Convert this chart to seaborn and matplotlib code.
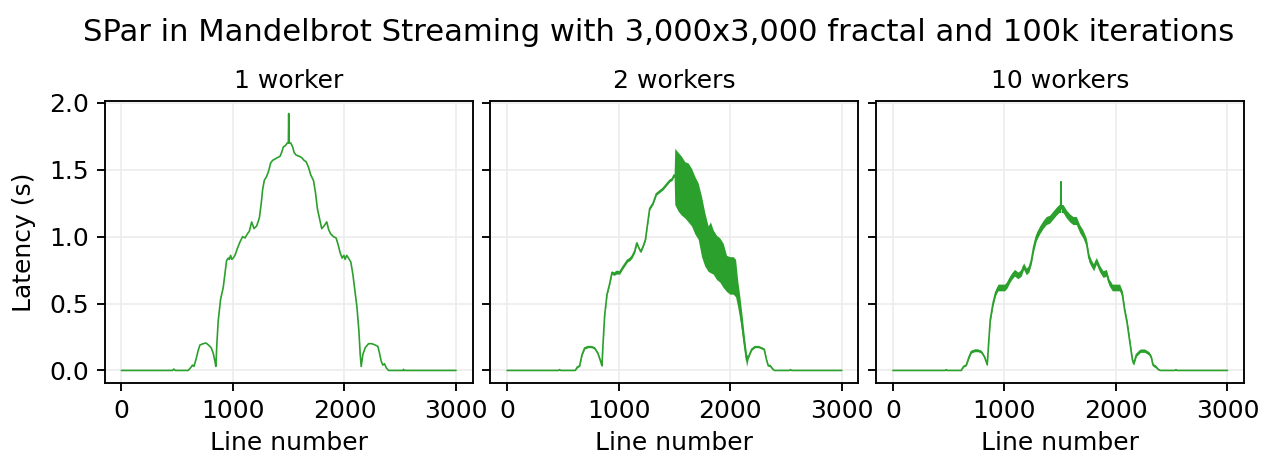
import numpy as np
import pandas as pd
import matplotlib
matplotlib.use("Agg")
import matplotlib.pyplot as plt
import seaborn as sns

GREEN = "#2ca02c"

# ---- 1 worker: latency per line ----
lines_1w = [0, 458, 470, 482, 599, 620, 638, 650, 668, 689, 704, 734, 758, 781, 805, 823, 838, 847,
            856, 868, 889, 913, 928, 943, 958, 968, 979, 990, 1003, 1018, 1039, 1063, 1087, 1108, 1129, 1147,
            1168, 1189, 1213, 1237, 1254, 1266, 1281, 1302, 1320, 1338, 1356, 1377, 1398, 1422, 1437,
            1452, 1470, 1488, 1497, 1500, 1503, 1518, 1536, 1548, 1566, 1596, 1617, 1638, 1656, 1677,
            1698, 1722, 1740, 1757, 1775, 1796, 1817, 1841, 1859, 1877, 1901, 1925, 1943, 1961, 1979,
            1995, 2006, 2020, 2036, 2057, 2075, 2093, 2111, 2129, 2141, 2150, 2165, 2186, 2216, 2246, 2275, 2299,
            2314, 2329, 2344, 2359, 2374, 2395, 2525, 2530, 2535, 3000]
lat_1w = [0, 0, 0.01, 0, 0, 0.02, 0.04, 0.03, 0.08, 0.15, 0.19, 0.20, 0.205, 0.19, 0.17, 0.13, 0.07, 0.03,
          0.20, 0.37, 0.53, 0.62, 0.72, 0.82, 0.84, 0.83, 0.86, 0.83, 0.84, 0.86, 0.91, 0.96, 1.00, 0.99, 1.02, 1.04,
          1.11, 1.06, 1.08, 1.14, 1.25, 1.35, 1.42, 1.45, 1.49, 1.55, 1.57, 1.58, 1.59, 1.60, 1.63,
          1.67, 1.68, 1.70, 1.70, 1.92, 1.70, 1.70, 1.67, 1.63, 1.61, 1.60, 1.59, 1.57, 1.56, 1.52,
          1.46, 1.42, 1.33, 1.21, 1.14, 1.06, 1.08, 1.11, 1.05, 1.02, 1.00, 0.99, 0.94, 0.88, 0.84,
          0.86, 0.83, 0.86, 0.84, 0.81, 0.72, 0.60, 0.48, 0.30, 0.12, 0.03, 0.12, 0.17, 0.20, 0.20, 0.19, 0.18,
          0.13, 0.07, 0.04, 0.05, 0.02, 0, 0, 0.008, 0, 0]

# ---- 2 workers: lower / upper latency per line ----
lines_2w = [0, 460, 470, 480, 611, 629, 650, 671, 695, 725, 755, 784, 814, 838, 850, 859, 874, 895,
            919, 940, 958, 979, 1009, 1030, 1054, 1078, 1099, 1120, 1144, 1162, 1180, 1198, 1219,
            1240, 1258, 1278, 1308, 1338, 1368, 1398, 1428, 1458, 1479, 1497, 1503, 1533, 1563,
            1593, 1623, 1653, 1683, 1713, 1743, 1772, 1802, 1823, 1847, 1877, 1907, 1937, 1967,
            1997, 2027, 2048, 2066, 2087, 2108, 2126, 2147, 2162, 2192, 2222, 2252, 2282, 2305,
            2326, 2341, 2356, 2377, 2395, 2530, 2540, 2550, 3000]
low_2w = [0, 0, 0.004, 0, 0, 0.02, 0.03, 0.11, 0.16, 0.17, 0.17, 0.16, 0.12, 0.06, 0.03, 0.18, 0.40, 0.56,
          0.64, 0.72, 0.71, 0.72, 0.72, 0.75, 0.78, 0.81, 0.82, 0.84, 0.88, 0.94, 0.91, 0.88, 0.92,
          0.97, 1.08, 1.20, 1.24, 1.31, 1.33, 1.35, 1.38, 1.41, 1.42, 1.45, 1.24, 1.19, 1.16,
          1.14, 1.11, 1.08, 1.02, 0.98, 0.85, 0.78, 0.74, 0.73, 0.72, 0.68, 0.66, 0.62, 0.59,
          0.57, 0.57, 0.55, 0.48, 0.38, 0.26, 0.15, 0.03, 0.09, 0.15, 0.17, 0.17, 0.16, 0.15,
          0.07, 0.03, 0.03, 0.01, 0, 0, 0.004, 0, 0]
high_2w = [0, 0, 0.008, 0, 0, 0.03, 0.04, 0.125, 0.175, 0.185, 0.185, 0.175, 0.135, 0.075, 0.04, 0.195, 0.415, 0.575,
           0.655, 0.745, 0.735, 0.75, 0.745, 0.775, 0.805, 0.835, 0.845, 0.865, 0.905, 0.965, 0.925, 0.895, 0.935,
           0.985, 1.10, 1.22, 1.26, 1.33, 1.35, 1.37, 1.40, 1.43, 1.44, 1.47, 1.66, 1.63, 1.60,
           1.56, 1.55, 1.51, 1.45, 1.40, 1.30, 1.18, 1.08, 1.11, 1.05, 1.01, 0.99, 0.95, 0.86,
           0.85, 0.85, 0.83, 0.68, 0.55, 0.40, 0.26, 0.12, 0.105, 0.165, 0.185, 0.185, 0.175, 0.165,
           0.085, 0.04, 0.045, 0.02, 0, 0, 0.008, 0, 0]

# ---- 10 workers: lower / upper latency per line ----
lines_10w = [0, 470, 478, 486, 613, 634, 658, 682, 703, 733, 762, 792, 822, 846, 858, 873, 897, 921,
             942, 972, 1002, 1023, 1047, 1070, 1091, 1121, 1151, 1172, 1196, 1220, 1241, 1262, 1286,
             1316, 1346, 1375, 1405, 1435, 1465, 1489, 1504, 1507, 1510, 1525, 1555, 1585, 1615, 1645,
             1674, 1704, 1734, 1758, 1779, 1800, 1824, 1854, 1884, 1914, 1937, 1967, 2003, 2033, 2057,
             2078, 2099, 2123, 2147, 2159, 2183, 2219, 2257, 2296, 2317, 2332, 2356, 2377, 2398,
             2530, 2538, 2546, 3000]
low_10w = [0, 0, 0.004, 0, 0, 0.025, 0.035, 0.09, 0.13, 0.14, 0.14, 0.13, 0.09, 0.035, 0.19, 0.36, 0.48, 0.56,
           0.595, 0.595, 0.595, 0.615, 0.655, 0.685, 0.705, 0.685, 0.705, 0.755, 0.715, 0.735, 0.795, 0.89, 0.97,
           1.02, 1.06, 1.09, 1.10, 1.13, 1.16, 1.18, 1.18, 1.40, 1.18, 1.18, 1.14, 1.11, 1.09, 1.09,
           1.03, 0.99, 0.93, 0.81, 0.775, 0.745, 0.795, 0.735, 0.695, 0.705, 0.635, 0.595, 0.595, 0.595, 0.545,
           0.43, 0.34, 0.20, 0.065, 0.04, 0.105, 0.135, 0.135, 0.115, 0.085, 0.03, 0.02, 0.004, 0,
           0, 0.004, 0, 0]
high_10w = [0, 0, 0.008, 0, 0, 0.035, 0.045, 0.11, 0.15, 0.16, 0.16, 0.15, 0.11, 0.05, 0.21, 0.40, 0.52, 0.60,
            0.645, 0.645, 0.645, 0.665, 0.705, 0.735, 0.755, 0.735, 0.755, 0.805, 0.765, 0.785, 0.845, 0.95, 1.03,
            1.08, 1.12, 1.15, 1.16, 1.19, 1.22, 1.24, 1.24, 1.42, 1.24, 1.24, 1.20, 1.17, 1.15, 1.15,
            1.09, 1.05, 0.99, 0.87, 0.825, 0.795, 0.845, 0.785, 0.745, 0.755, 0.685, 0.645, 0.645, 0.645, 0.595,
            0.47, 0.38, 0.24, 0.095, 0.06, 0.13, 0.16, 0.16, 0.14, 0.11, 0.05, 0.04, 0.014, 0,
            0, 0.008, 0, 0]

panel_titles = ["1 worker", "2 workers", "10 workers"]
suptitle = "SPar in Mandelbrot Streaming with 3,000x3,000 fractal and 100k iterations"

sns.set_style("ticks", {
    "axes.grid": True,
    "grid.color": "#ececec",
    "axes.edgecolor": "black",
    "text.color": "black",
    "axes.labelcolor": "black",
    "xtick.color": "black",
    "ytick.color": "black",
})
plt.rcParams["font.family"] = ["DejaVu Sans"]
plt.rcParams["axes.linewidth"] = 0.9
plt.rcParams["grid.linewidth"] = 0.8

fig = plt.figure(figsize=(1261 / 150, 457 / 150), dpi=150)
axes = fig.subplots(1, 3, sharey=True)
fig.subplots_adjust(left=0.083, right=0.9867, bottom=0.1613, top=0.7797, wspace=0.048)

panels = [
    (lines_1w, lat_1w, lat_1w),
    (lines_2w, low_2w, high_2w),
    (lines_10w, low_10w, high_10w),
]

for ax, title, (lines, low, high) in zip(axes, panel_titles, panels):
    df = pd.DataFrame({
        "line": np.concatenate([lines, lines]),
        "latency": np.concatenate([low, high]),
    })
    # min/max band per line, drawn solid so it reads as a thick oscillating trace
    sns.lineplot(data=df, x="line", y="latency", ax=ax, color=GREEN, linewidth=0.8,
                 estimator="mean", errorbar=("pi", 100),
                 err_kws={"alpha": 1, "linewidth": 0})
    ax.set_title(title, fontsize=12)
    ax.set_xlabel("Line number", fontsize=12)
    ax.set_ylabel("")
    ax.set_xticks([0, 1000, 2000, 3000])
    ax.tick_params(labelsize=12, length=4, width=0.9)
    for side in ["top", "right", "left", "bottom"]:
        ax.spines[side].set_visible(True)
    ax.set_axisbelow(True)

axes[0].set_yticks([0.0, 0.5, 1.0, 1.5, 2.0])
axes[0].set_ylabel("Latency (s)", fontsize=12, labelpad=6.5)

fig.suptitle(suptitle, x=0.522, y=0.928, va="center", fontsize=14.7)

fig.savefig("out.png", dpi=150)
